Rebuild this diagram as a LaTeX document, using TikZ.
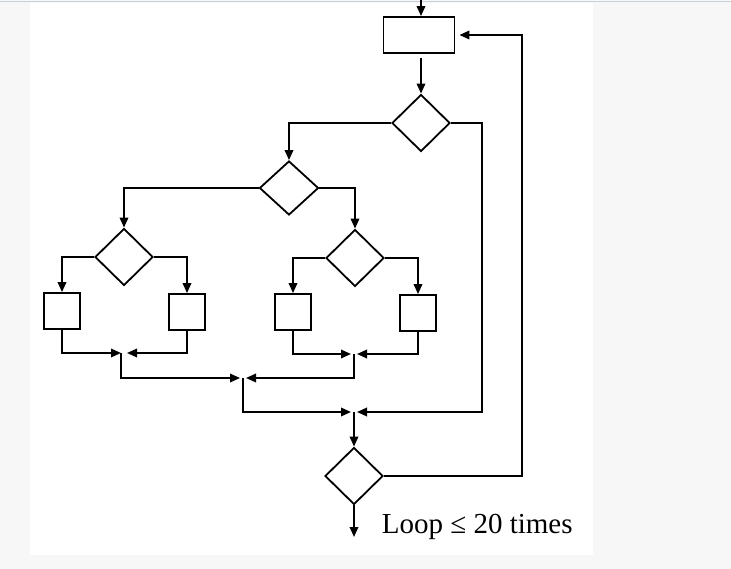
\documentclass[tikz,border=0pt]{standalone}
\usepackage{fontspec}
\setmainfont{Liberation Serif}
\usetikzlibrary{shapes.geometric,arrows.meta}
\definecolor{pagegray}{RGB}{247,247,248}
\definecolor{rulegray}{RGB}{200,208,218}
\tikzset{choix/.style = {diamond, draw, inner sep=0pt,
                         minimum width=#1, minimum height=57pt},
         choix/.default=58pt
        }
\tikzset{bloc/.style={draw, rectangle, minimum width=36pt, minimum height=36pt},
         fl/.style={-{Triangle[length=10pt,width=8.5pt]}},
         lien/.style={line width=1.8pt, line join=miter}}
\begin{document}
\begin{tikzpicture}[x=1pt,y=-1pt,every node/.style={line width=1.8pt},lien]
\useasboundingbox (0,0) rectangle (731,569);
\fill[pagegray] (0,0) rectangle (731,569);
\fill[white] (30,3) rectangle (593,555);
\draw[rulegray,line width=1.2pt] (0,1.5) -- (731,1.5);
% les noeuds
\node[bloc, minimum width=71pt] (debut) at (419,35) {};
\node[choix] (c1) at (421,123) {};
\node[choix=59pt, minimum height=54pt] (c2) at (289,188) {};
\node[choix] (c3) at (124,257) {};
\node[choix] (c4) at (355,258) {};
\node[choix] (c5) at (354,476) {};
\node[bloc] (b1) at (62,311) {};
\node[bloc] (b2) at (187,312) {};
\node[bloc] (b3) at (293,312) {};
\node[bloc] (b4) at (418,313) {};
\coordinate (entree) at (421,0);
\coordinate (sortie) at (354,537);
\coordinate (j1) at (124,353);
\coordinate (j2) at (354,354);
\coordinate (j3) at (243,378);
\coordinate (j4) at (354,412);
\coordinate (r1) at (482,123);
\coordinate (r2) at (522,476);
% les liens
\draw[fl] (entree) -- (debut.north -| entree);
\draw[fl, shorten <=4pt] (debut.south -| c1) -- (c1.north);
\draw[fl] (c1.west) -| (c2.north);
\draw[fl] (c1.east) -- (r1) |- ([xshift=3pt]j4);
\draw[fl] (c2.west) -| (c3.north);
\draw[fl] (c2.east) -| (c4.north);
\draw[fl] (c3.west) -| (b1.north);
\draw[fl] (c3.east) -| (b2.north);
\draw[fl] (c4.west) -| (b3.north);
\draw[fl] (c4.east) -| (b4.north);
\draw[fl] (b1.south) |- ([xshift=-3pt]j1);
\draw[fl] (b2.south) |- ([xshift=3pt]j1);
\draw[fl] (b3.south) |- ([xshift=-3pt]j2);
\draw[fl] (b4.south) |- ([xshift=3pt]j2);
\draw[fl] ([xshift=-3pt]j1) |- ([xshift=-3pt]j3);
\draw[fl] (j2) |- ([xshift=3pt]j3);
\draw[fl] (j3) |- ([xshift=-3pt]j4);
\draw[fl] (j4) -- (c5.north);
\draw[fl] (c5.south) -- (sortie);
\draw[fl] (c5.east) -- (r2) |- ([xshift=4pt]debut.east);
\node[anchor=base west, font=\fontsize{29}{32}\selectfont, inner sep=0pt] (legende) at (381,533) {Loop ≤ 20 times};
\end{tikzpicture}
\end{document}
